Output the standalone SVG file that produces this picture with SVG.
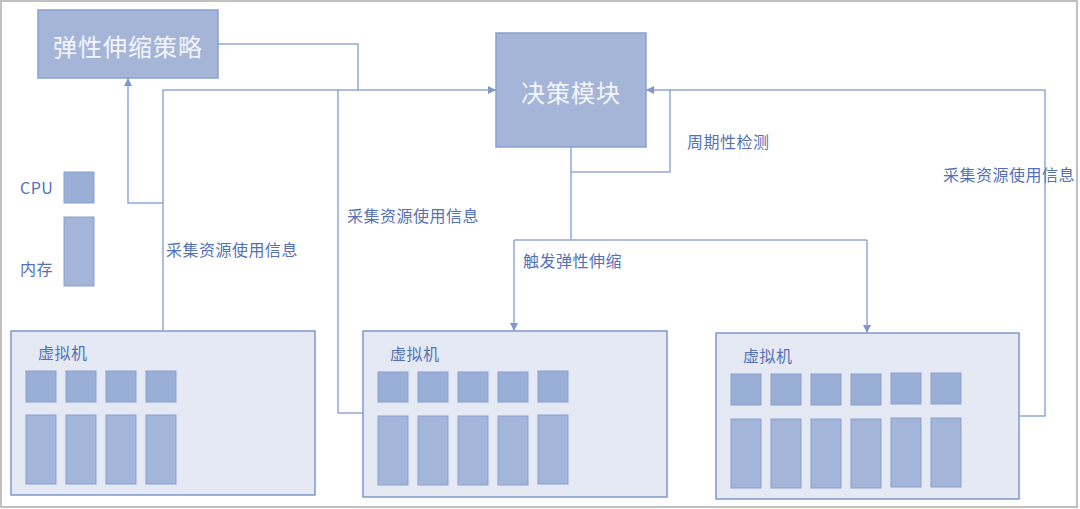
<svg xmlns="http://www.w3.org/2000/svg" width="1080" height="509" viewBox="0 0 1080 509">
<defs>
<marker id="arr" viewBox="0 0 10 10" refX="10" refY="5" markerWidth="8" markerHeight="8" markerUnits="userSpaceOnUse" orient="auto">
<path d="M0,0 L10,5 L0,10 z" fill="#7f97cc"/>
</marker>
<style>
.title{font-family:"Noto Sans CJK SC","Noto Sans",sans-serif;font-size:24px;letter-spacing:1px;fill:#f4f6fb;text-anchor:middle;dominant-baseline:central}
.lbl{font-family:"Noto Sans CJK SC","Noto Sans",sans-serif;font-size:16px;letter-spacing:0.5px;fill:#5571b5;dominant-baseline:central}
.big{fill:#a4b5d8;stroke:#8aa0d0;stroke-width:1.5}
.vm{fill:#e4e9f4;stroke:#7f98cc;stroke-width:1.5}
.sq{fill:#9aafd6;stroke:#8aa0d0;stroke-width:1}
.tall{fill:#a3b5d8;stroke:#8aa0d0;stroke-width:1}
.ln{fill:none;stroke:#93a8d6;stroke-width:1.5}
</style>
</defs>
<rect x="1" y="1" width="1076" height="506" fill="#fff" stroke="#c0c0c0" stroke-width="2"/>

<g id="connectors">
<path class="ln" d="M218,44 H358 V90 H496" marker-end="url(#arr)"/>
<path class="ln" d="M163,330 V90 H358"/>
<path class="ln" d="M163,203 H128 V78" marker-end="url(#arr)"/>
<path class="ln" d="M363,413 H338 V90"/>
<path class="ln" d="M1019,416 H1045 V90 H646" marker-end="url(#arr)"/>
<path class="ln" d="M571,147 V172 H670 V90"/>
<path class="ln" d="M571,172 V240"/>
<path class="ln" d="M514,240 H867"/>
<path class="ln" d="M514,240 V331" marker-end="url(#arr)"/>
<path class="ln" d="M867,240 V333" marker-end="url(#arr)"/>
<text class="lbl" x="166" y="249">采集资源使用信息</text>
<text class="lbl" x="347" y="215">采集资源使用信息</text>
<text class="lbl" x="943" y="174">采集资源使用信息</text>
<text class="lbl" x="687" y="141">周期性检测</text>
<text class="lbl" x="523" y="260">触发弹性伸缩</text>
</g>

<g id="strategy">
<rect class="big" x="38" y="10" width="180" height="68"/>
<text class="title" x="128" y="45">弹性伸缩策略</text>
</g>

<g id="decision">
<rect class="big" x="496" y="33" width="150" height="114"/>
<text class="title" x="571" y="91">决策模块</text>
</g>

<g id="legend">
<text class="lbl" x="20" y="187">CPU</text>
<rect class="sq" x="64" y="172" width="30" height="31"/>
<text class="lbl" x="20" y="268">内存</text>
<rect class="tall" x="64" y="217" width="30" height="69"/>
</g>

<g id="vm1">
<rect class="vm" x="11" y="331" width="304" height="164"/>
<text class="lbl" x="38" y="352">虚拟机</text>
<rect class="sq" x="26" y="371" width="30" height="31"/>
<rect class="sq" x="66" y="371" width="30" height="31"/>
<rect class="sq" x="106" y="371" width="30" height="31"/>
<rect class="sq" x="146" y="371" width="30" height="31"/>
<rect class="tall" x="26" y="415" width="30" height="69"/>
<rect class="tall" x="66" y="415" width="30" height="69"/>
<rect class="tall" x="106" y="415" width="30" height="69"/>
<rect class="tall" x="146" y="415" width="30" height="69"/>
</g>

<g id="vm2">
<rect class="vm" x="363" y="331" width="304" height="166"/>
<text class="lbl" x="390" y="353">虚拟机</text>
<rect class="sq" x="378" y="372" width="30" height="30"/>
<rect class="sq" x="418" y="372" width="30" height="30"/>
<rect class="sq" x="458" y="372" width="30" height="30"/>
<rect class="sq" x="498" y="372" width="30" height="30"/>
<rect class="sq" x="538" y="371" width="30" height="31"/>
<rect class="tall" x="378" y="416" width="30" height="69"/>
<rect class="tall" x="418" y="416" width="30" height="69"/>
<rect class="tall" x="458" y="416" width="30" height="69"/>
<rect class="tall" x="498" y="416" width="30" height="69"/>
<rect class="tall" x="538" y="415" width="30" height="69"/>
</g>

<g id="vm3">
<rect class="vm" x="716" y="333" width="303" height="166"/>
<text class="lbl" x="743" y="355">虚拟机</text>
<rect class="sq" x="731" y="374" width="30" height="31"/>
<rect class="sq" x="771" y="374" width="30" height="31"/>
<rect class="sq" x="811" y="374" width="30" height="31"/>
<rect class="sq" x="851" y="374" width="30" height="31"/>
<rect class="sq" x="891" y="373" width="30" height="31"/>
<rect class="sq" x="931" y="373" width="30" height="31"/>
<rect class="tall" x="731" y="419" width="30" height="69"/>
<rect class="tall" x="771" y="419" width="30" height="69"/>
<rect class="tall" x="811" y="419" width="30" height="69"/>
<rect class="tall" x="851" y="419" width="30" height="69"/>
<rect class="tall" x="891" y="418" width="30" height="69"/>
<rect class="tall" x="931" y="418" width="30" height="69"/>
</g>
</svg>
